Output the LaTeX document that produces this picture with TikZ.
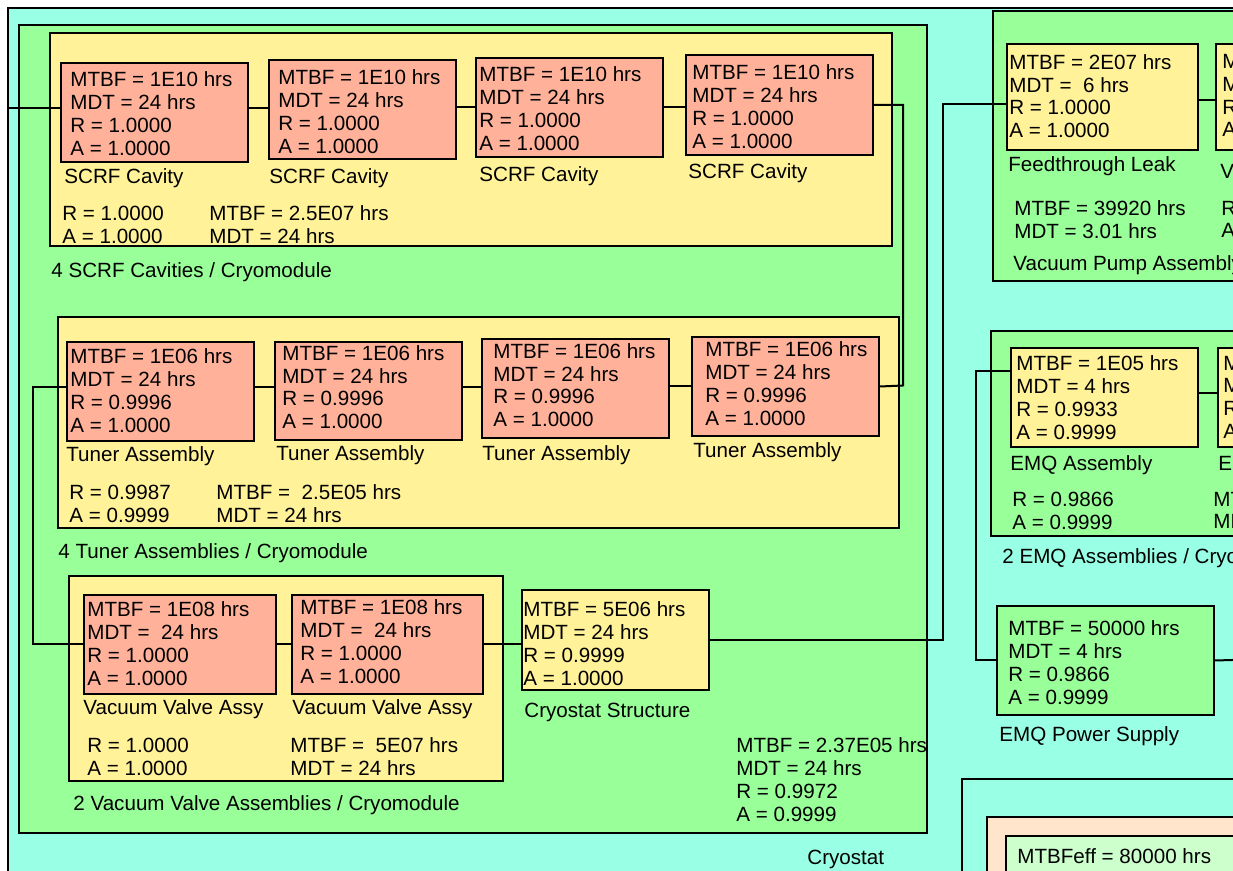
\documentclass[tikz,border=0pt]{standalone}
\usepackage{fontspec}
\setmainfont{Liberation Sans}
\definecolor{rbdCyan}{RGB}{153,255,229}
\definecolor{rbdGreen}{RGB}{153,255,153}
\definecolor{rbdYellow}{RGB}{255,242,153}
\definecolor{rbdSalmon}{RGB}{255,178,153}
\definecolor{rbdPeach}{RGB}{255,229,204}
\definecolor{rbdMint}{RGB}{204,255,204}
\newcommand\rbdfont{\fontsize{10.3}{11.4}\selectfont}

\begin{document}
\begin{tikzpicture}[x=0.5pt,y=-0.5pt,
  grp/.style={draw=black,line width=1pt},
  cell/.style={draw=black,line width=1pt,anchor=north west,inner sep=0pt,minimum width=93.5pt,minimum height=49.5pt},
  part/.style={cell,fill=rbdSalmon},
  unit/.style={cell,fill=rbdYellow},
  supply/.style={cell,fill=rbdGreen},
  txt/.style={anchor=north west,inner sep=0pt,align=left,font=\rbdfont},
  link/.style={line width=1pt}]
\useasboundingbox (0,0) rectangle (1233,871);
\clip (0,0) rectangle (1233,871);
\fill[white] (0,0) rectangle (1233,871);
% group frames
\draw[grp,fill=rbdCyan] (8,8) rectangle (1260,900);
\draw[grp,fill=rbdGreen] (19,25) rectangle (927,833);
\draw[grp,fill=rbdYellow] (50,33) rectangle (892,246);
\draw[grp,fill=rbdYellow] (58,317) rectangle (899,528);
\draw[grp,fill=rbdYellow] (69,576) rectangle (503,781);
\draw[grp,fill=rbdGreen] (993,11) rectangle (1260,281);
\draw[grp,fill=rbdGreen] (991,331) rectangle (1260,536);
\draw[grp,fill=rbdCyan] (962,779) rectangle (1260,900);
\draw[grp,fill=rbdPeach] (987,817) rectangle (1260,900);
\draw[grp,fill=rbdMint] (1006,836) rectangle (1260,900);
% blocks
\node[part] (s1) at (60,62) {};
\node[part] (s2) at (268,59) {};
\node[part] (s3) at (475,57) {};
\node[part,minimum height=50pt] (s4) at (685,54) {};
\node[part] (t1) at (66,341) {};
\node[part,minimum height=49pt] (t2) at (274,341) {};
\node[part] (t3) at (481,338) {};
\node[part] (t4) at (691,336) {};
\node[part,minimum width=96pt] (v1) at (83,594) {};
\node[part,minimum width=95.5pt] (v2) at (291,594) {};
\node[unit,minimum height=50pt] (st) at (521,589) {};
\node[unit,minimum width=95.5pt,minimum height=53pt] (feed) at (1006,43) {};
\node[unit,minimum width=95.5pt,minimum height=53pt] (vp2) at (1215,43) {};
\node[unit] (emq1) at (1010,347) {};
\node[unit] (emq2) at (1217,347) {};
\node[supply,minimum width=108.5pt,minimum height=54.5pt] (ps) at (996,605) {};
\coordinate (in0) at (8,108);
\coordinate (j2) at (943,104);
\coordinate (j3) at (903,385.5);
\coordinate (j4) at (33,387);
\coordinate (j5) at (976,371);
\coordinate (out1) at (1250,659.5);
% connectors
\draw[link] (in0) -- (in0 -| s1.west);
\draw[link] ([yshift=2.25pt]s1.east) -- ([yshift=2.25pt]s1.east -| s2.west);
\draw[link] ([yshift=1.25pt]s2.east) -- ([yshift=1.25pt]s2.east -| s3.west);
\draw[link] (s3.east) -- (s3.east -| s4.west);
\draw[link] (s4.east) -| (j3) -- (t4.east);
\draw[link] (t4.west) -- (t4.west -| t3.east);
\draw[link] ([yshift=2pt]t2.east) -- ([yshift=2pt]t2.east -| t3.west);
\draw[link] ([yshift=2.25pt]t1.east) -- ([yshift=2.25pt]t1.east -| t2.west);
\draw[link] (t1.west |- j4) -- (j4) |- (v1.west);
\draw[link] (v1.east) -- (v2.west);
\draw[link] (v2.east) -- (v2.east -| st.west);
\draw[link] (st.east) -| (j2) -- (j2 -| feed.west);
\draw[link] ([yshift=-1.5pt]feed.east) -- ([yshift=-1.5pt]feed.east -| vp2.west);
\draw[link] (j5 -| emq1.west) -- (j5) |- (ps.west);
\draw[link] ([yshift=2.25pt]emq1.east) -- ([yshift=2.25pt]emq1.east -| emq2.west);
\draw[link] (ps.east) -- (out1);
% block texts
\node[txt] (s1x) at (70,71.5) {MTBF = 1E10 hrs\\MDT = 24 hrs\\R = 1.0000\\A = 1.0000};
\node[txt] (s2x) at (278,69.5) {MTBF = 1E10 hrs\\MDT = 24 hrs\\R = 1.0000\\A = 1.0000};
\node[txt] (s3x) at (479,66.5) {MTBF = 1E10 hrs\\MDT = 24 hrs\\R = 1.0000\\A = 1.0000};
\node[txt] (s4x) at (692,64.5) {MTBF = 1E10 hrs\\MDT = 24 hrs\\R = 1.0000\\A = 1.0000};
\node[txt] (t1x) at (70,348.5) {MTBF = 1E06 hrs\\MDT = 24 hrs\\R = 0.9996\\A = 1.0000};
\node[txt] (t2x) at (282,345) {MTBF = 1E06 hrs\\MDT = 24 hrs\\R = 0.9996\\A = 1.0000};
\node[txt] (t3x) at (493,343) {MTBF = 1E06 hrs\\MDT = 24 hrs\\R = 0.9996\\A = 1.0000};
\node[txt] (t4x) at (705,341.5) {MTBF = 1E06 hrs\\MDT = 24 hrs\\R = 0.9996\\A = 1.0000};
\node[txt] (v1x) at (87,601.5) {MTBF = 1E08 hrs\\MDT = \ 24 hrs\\R = 1.0000\\A = 1.0000};
\node[txt] (v2x) at (300,599.5) {MTBF = 1E08 hrs\\MDT = \ 24 hrs\\R = 1.0000\\A = 1.0000};
\node[txt] (stx) at (523,601.5) {MTBF = 5E06 hrs\\MDT = 24 hrs\\R = 0.9999\\A = 1.0000};
\node[txt] (feedx) at (1009,54) {MTBF = 2E07 hrs\\MDT = \ 6 hrs\\R = 1.0000\\A = 1.0000};
\node[txt] (vp2x) at (1222,54) {M\\M\\R\\A};
\node[txt] (emq1x) at (1016,355.5) {MTBF = 1E05 hrs\\MDT = 4 hrs\\R = 0.9933\\A = 0.9999};
\node[txt] (emq2x) at (1223,355.5) {M\\M\\R\\A};
\node[txt] (psx) at (1008,620.5) {MTBF = 50000 hrs\\MDT = 4 hrs\\R = 0.9866\\A = 0.9999};
\node[txt] (effx) at (1017,848.5) {MTBFeff = 80000 hrs};
% labels and sums
\node[txt] (s1lab) at (64,168.5) {SCRF Cavity};
\node[txt] (s2lab) at (269,168.5) {SCRF Cavity};
\node[txt] (s3lab) at (479,166.5) {SCRF Cavity};
\node[txt] (s4lab) at (688,163.5) {SCRF Cavity};
\node[txt] (scrfRA) at (62,205.5) {R = 1.0000\\A = 1.0000};
\node[txt] (scrfMM) at (209,205.5) {MTBF = 2.5E07 hrs\\MDT = 24 hrs};
\node[txt] (scrfTitle) at (51,262.5) {4 SCRF Cavities / Cryomodule};
\node[txt] (t1lab) at (66,446.5) {Tuner Assembly};
\node[txt] (t2lab) at (276,445.5) {Tuner Assembly};
\node[txt] (t3lab) at (482,445.5) {Tuner Assembly};
\node[txt] (t4lab) at (693,442.5) {Tuner Assembly};
\node[txt] (tunRA) at (69,484.5) {R = 0.9987\\A = 0.9999};
\node[txt] (tunMM) at (216,484.5) {MTBF = \ 2.5E05 hrs\\MDT = 24 hrs};
\node[txt] (tunTitle) at (58,543.5) {4 Tuner Assemblies / Cryomodule};
\node[txt] (v1lab) at (83,699.5) {Vacuum Valve Assy};
\node[txt] (v2lab) at (292,699.5) {Vacuum Valve Assy};
\node[txt] (valRA) at (87,737.5) {R = 1.0000\\A = 1.0000};
\node[txt] (valMM) at (290,737.5) {MTBF = \ 5E07 hrs\\MDT = 24 hrs};
\node[txt] (valTitle) at (73,795.5) {2 Vacuum Valve Assemblies / Cryomodule};
\node[txt] (stlab) at (524,702.5) {Cryostat Structure};
\node[txt] (cryoSum) at (736,737.5) {MTBF = 2.37E05 hrs\\MDT = 24 hrs\\R = 0.9972\\A = 0.9999};
\node[txt] (cryoTitle) at (807,849.5) {Cryostat};
\node[txt] (feedlab) at (1008,156.5) {Feedthrough Leak};
\node[txt] (vp2lab) at (1220,163.5) {V};
\node[txt] (vpMM) at (1014,200.5) {MTBF = 39920 hrs\\MDT = 3.01 hrs};
\node[txt] (vpRA) at (1221,200.5) {R\\A};
\node[txt] (vpTitle) at (1013,255.5) {Vacuum Pump Assembly};
\node[txt] (emq1lab) at (1010,455.5) {EMQ Assembly};
\node[txt] (emq2lab) at (1218,455.5) {E};
\node[txt] (emqRA) at (1012,491.5) {R = 0.9866\\A = 0.9999};
\node[txt] (emqMM) at (1213,491.5) {MT\\MD};
\node[txt] (emqTitle) at (1002,548.5) {2 EMQ Assemblies / Cryomodule};
\node[txt] (pslab) at (999,726.5) {EMQ Power Supply};
\end{tikzpicture}
\end{document}
